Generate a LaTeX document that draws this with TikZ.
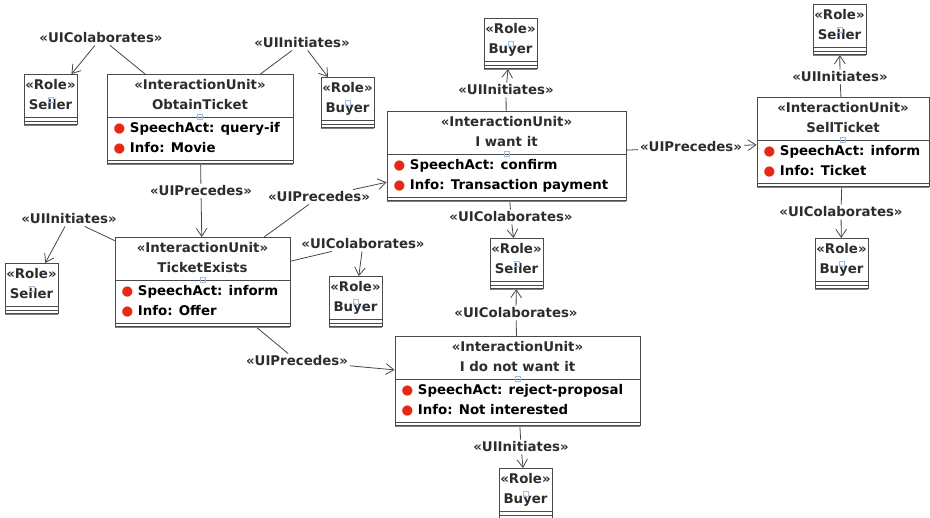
\documentclass[tikz,border=0pt]{standalone}
\usepackage{fontspec}
\setmainfont{DejaVu Sans}
\usetikzlibrary{shapes.multipart, arrows.meta}
\definecolor{ink}{RGB}{45,45,45}
\definecolor{frame}{RGB}{75,75,75}
\definecolor{wire}{RGB}{70,70,70}
\definecolor{handle}{RGB}{160,190,225}
\definecolor{bullet}{RGB}{230,40,20}
\newcommand{\dotmark}{\textcolor{bullet}{●}}
\newcommand{\shim}{\rule{1pt}{0pt}}
\newcommand{\stereo}[2]{{\def\arraystretch{1.085}\begin{tabular}{@{}c@{}}«#1»\\#2\end{tabular}}}
\newcommand{\attrs}[2]{{\def\arraystretch{1.085}\begin{tabular}{@{}l@{}}\dotmark\ SpeechAct: #1\\\dotmark\ Info: #2\end{tabular}}}

\begin{document}
\begin{tikzpicture}[
    x=0.75pt, y=-0.75pt,
    every node/.style={font=\fontsize{10}{13.5}\selectfont\bfseries, text=ink},
    iunit/.style={
        rectangle split,
        rectangle split parts=3,
        rectangle split part align={center,left,left},
        draw=frame, line width=0.6pt, fill=white,
        inner xsep=5pt, inner ysep=1.1pt,
        minimum width=#1, anchor=north
    },
    iunit/.default=130pt,
    role/.style={iunit=39.75pt, inner xsep=1pt},
    lbl/.style={inner sep=1.5pt},
    rel/.style={draw=wire, line width=0.6pt, -{Straight Barb[length=6pt,width=8pt]}},
    grip/.style={draw=handle, line width=0.5pt},
    shade/.style={draw=gray, line width=1pt}
]
\useasboundingbox (0,0) rectangle (930,517);

% === Interaction units ===
\node[iunit=139.5pt] (obtain) at (200,74) {\stereo{InteractionUnit}{ObtainTicket}
    \nodepart{two}\attrs{query-if}{Movie}\nodepart{three}\shim};
\node[iunit=131.25pt] (exists) at (202.5,237) {\stereo{InteractionUnit}{TicketExists}
    \nodepart{two}\attrs{inform}{Offer}\nodepart{three}\shim};
\node[iunit=179.25pt] (want) at (506.5,111) {\stereo{InteractionUnit}{I want it}
    \nodepart{two}\attrs{confirm}{Transaction payment}\nodepart{three}\shim};
\node[iunit=129pt] (sell) at (843,97) {\stereo{InteractionUnit}{SellTicket}
    \nodepart{two}\attrs{inform}{Ticket}\nodepart{three}\shim};
\node[iunit=183.75pt] (reject) at (517.5,336) {\stereo{InteractionUnit}{I do not want it}
    \nodepart{two}\attrs{reject-proposal}{Not interested}\nodepart{three}\shim};

% === Roles ===
\node[role] (sellerObtain) at (50.5,74) {\stereo{Role}{Seller}\nodepart{two}\shim\nodepart{three}\shim};
\node[role] (buyerObtain) at (347.5,77) {\stereo{Role}{Buyer}\nodepart{two}\shim\nodepart{three}\shim};
\node[role] (buyerWant) at (510.5,18) {\stereo{Role}{Buyer}\nodepart{two}\shim\nodepart{three}\shim};
\node[role] (sellerSell) at (839.5,4) {\stereo{Role}{Seller}\nodepart{two}\shim\nodepart{three}\shim};
\node[role] (buyerSell) at (841.5,238) {\stereo{Role}{Buyer}\nodepart{two}\shim\nodepart{three}\shim};
\node[role] (sellerExists) at (31.5,263) {\stereo{Role}{Seller}\nodepart{two}\shim\nodepart{three}\shim};
\node[role] (buyerExists) at (355.5,276) {\stereo{Role}{Buyer}\nodepart{two}\shim\nodepart{three}\shim};
\node[role] (sellerWant) at (516.5,238) {\stereo{Role}{Seller}\nodepart{two}\shim\nodepart{three}\shim};
\node[role] (buyerReject) at (525.5,468) {\stereo{Role}{Buyer}\nodepart{two}\shim\nodepart{three}\shim};

% === Relation labels ===
\node[lbl] (c1) at (101,38) {«UIColaborates»};
\node[lbl] (i1) at (302,43) {«UIInitiates»};
\node[lbl] (i2) at (506,90) {«UIInitiates»};
\node[lbl] (p1) at (691,147) {«UIPrecedes»};
\node[lbl] (i3) at (840,77) {«UIInitiates»};
\node[lbl] (c2) at (841,212) {«UIColaborates»};
\node[lbl] (p2) at (201,191) {«UIPrecedes»};
\node[lbl] (p3) at (319,197) {«UIPrecedes»};
\node[lbl] (i4) at (69,219) {«UIInitiates»};
\node[lbl] (c3) at (363,244) {«UIColaborates»};
\node[lbl] (c4) at (511,217) {«UIColaborates»};
\node[lbl] (c5) at (516,313) {«UIColaborates»};
\node[lbl] (p4) at (297,361) {«UIPrecedes»};
\node[lbl] (i5) at (521,447) {«UIInitiates»};

% === Relations ===
\draw[rel] (obtain) -- (c1) -- (sellerObtain);
\draw[rel] (obtain) -- (i1) -- (buyerObtain);
\draw[rel] (want) -- (i2) -- (buyerWant);
\draw[rel] (want) -- (p1) -- (sell);
\draw[rel] (sell) -- (i3) -- (sellerSell);
\draw[rel] (sell) -- (c2) -- (buyerSell);
\draw[rel] (obtain) -- (p2) -- (exists);
\draw[rel] (exists) -- (p3) -- (want);
\draw[rel] (exists) -- (i4) -- (sellerExists);
\draw[rel] (exists) -- (c3) -- (buyerExists);
\draw[rel] (want) -- (c4) -- (sellerWant);
\draw[rel] (reject) -- (c5) -- (sellerWant);
\draw[rel] (exists) -- (p4) -- (reject);
\draw[rel] (reject) -- (i5) -- (buyerReject);

% bottom shading and selection handles
\foreach \n in {obtain, exists, want, sell, reject} {
    \draw[shade] ([yshift=-0.5pt]\n.south west) -- ([yshift=-0.5pt]\n.south east);
    \draw[grip] (\n.one split) ++(-2.5,-2.5) rectangle ++(5,5);
}
\foreach \n in {sellerObtain, buyerObtain, buyerWant, sellerSell, buyerSell,
                sellerExists, buyerExists, sellerWant, buyerReject} {
    \draw[shade] ([yshift=-0.5pt]\n.south west) -- ([yshift=-0.5pt]\n.south east);
    \draw[grip] (\n.center) ++(-2.5,-2.5) rectangle ++(5,5);
}

\end{tikzpicture}
\end{document}
